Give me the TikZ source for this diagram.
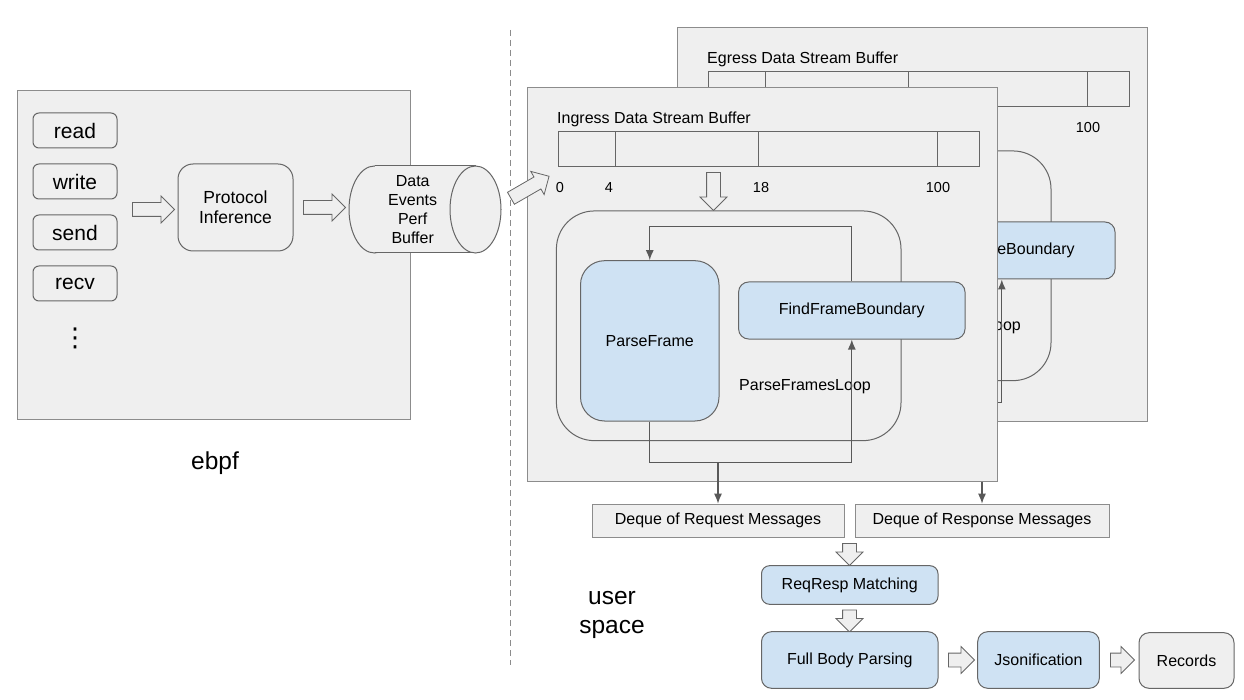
\documentclass[tikz,border=0pt]{standalone}
\usepackage{fontspec}
\setmainfont{Liberation Sans}
\newfontfamily\symfont{DejaVu Sans}
\usetikzlibrary{shapes.arrows,arrows.meta}
\definecolor{panelfill}{HTML}{EFEFEF}
\definecolor{panelline}{HTML}{8C8C8C}
\definecolor{boxline}{HTML}{666666}
\definecolor{stageblue}{HTML}{CFE2F3}
\definecolor{connline}{HTML}{595959}
\tikzset{
	panel/.style={draw=panelline,fill=panelfill,line width=1pt,inner sep=0pt},
	box/.style={draw=boxline,fill=panelfill,line width=1pt,rounded corners=#1},
	box/.default=10pt,
	stage/.style={box=#1,fill=stageblue},
	stage/.default=10pt,
	call/.style={box=6pt,minimum width=84pt,minimum height=35pt,font=\fontsize{21}{25}\selectfont},
	deque/.style={draw=panelline,fill=panelfill,line width=1pt,minimum height=33pt},
	hollow/.style={single arrow,draw=boxline,fill=panelfill,line width=.8pt,inner xsep=0pt,
		inner ysep=6.5pt,single arrow head extend=6.5pt},
	conn/.style={->,draw=connline,line width=1.3pt}
}
\begin{document}
\begin{tikzpicture}[x=1pt,y=-1pt,>={Latex[length=10pt,width=8pt]},font=\fontsize{16}{19}\selectfont]
		\useasboundingbox (0,0) rectangle (1244,700);
		% kernel side
		\node [panel,minimum width=393pt,minimum height=328pt] (ebpf) at (213.5,255) {};
		\foreach \c [count=\i] in {read,write,send,recv}
			\node [call] (\c) at (75,79.5+51*\i) {\c};
		\node [font=\symfont\fontsize{26}{30}\selectfont] (more) at (75,338) {⋮};
		\node [hollow,minimum height=42pt] (tap) at (150,209.5) {};
		\node [box=15pt,minimum width=115pt,minimum height=87pt,align=center,
			font=\fontsize{17.5}{20}\selectfont] (proto) at (235.5,207.5) {Protocol\\Inference};
		\node [hollow,minimum height=42pt] (emit) at (321,207.5) {};
		% perf buffer drum
		\filldraw [draw=boxline,fill=panelfill,line width=1pt] (374.5,209.5) ellipse [x radius=25.5,y radius=43.5];
		\fill [panelfill] (374.5,166) rectangle (475.5,253);
		\draw [boxline,line width=1pt] (374.5,166) -- (475.5,166) (374.5,253) -- (475.5,253);
		\filldraw [draw=boxline,fill=panelfill,line width=1pt] (475.5,209.5) ellipse [x radius=25.5,y radius=43.5];
		\node [align=center] (perf) at (412.7,210) {Data\\Events\\Perf\\Buffer};
		\node [font=\fontsize{24.5}{29}\selectfont] (kernel) at (215,463) {ebpf};
		\draw [panelline,line width=1pt,dash pattern=on 6pt off 4pt] (510,30) -- (510,665);
		\node [align=center,font=\fontsize{24.5}{29}\selectfont] (user) at (612,615) {user\\space};
		
		% stream buffers, egress behind ingress
		\foreach \p/\dx/\dy/\dir/\tx in {eg/150/-60/Egress/-8,in/0/0/Ingress/0}{
			\begin{scope}[shift={(\dx,\dy)}]
				\node [panel,minimum width=470pt,minimum height=393pt] (\p-panel) at (762,284.5) {};
				\node [anchor=west,inner sep=0pt] (\p-title) at (557,119.5) {\dir\ Data Stream Buffer};
				\node [draw=boxline,line width=1pt,inner sep=0pt,minimum width=421pt,minimum height=35pt] (\p-buf) at (768.5,149.5) {};
				\foreach \x in {615.7,758.3,937.7}
					\draw [boxline,line width=1pt] (\x,0 |- \p-buf.north) -- (\x,0 |- \p-buf.south);
				\foreach \lab/\x in {0/560,4/609,18/761,100/938}
					\node [font=\fontsize{14.5}{17}\selectfont] (\p-mark\lab) at (\x,188) {\lab};
				\node [hollow,minimum height=38pt,rotate=-90] (\p-drop) at (713.5,188) {};
				\node [box=38pt,minimum width=344.6pt,minimum height=229.7pt] (\p-loop) at (728.7,325.8) {};
				\node [stage=24pt,minimum width=138.5pt,minimum height=160.3pt] (\p-parse) at (649.75,340.85) {ParseFrame};
				\node [stage,minimum width=226.4pt,minimum height=57pt] (\p-find) at (851.8,310.5) {FindFrameBoundary};
				\node (\p-looplabel) at (805,387) {ParseFramesLoop};
				\draw [conn] ([xshift=\tx pt]\p-find.north) -- ++(0,-55) -| (\p-parse.north);
				\draw [conn] (\p-parse.south) -- ++(0,41) coordinate (\p-join) -| (\p-find.south);
			\end{scope}
		}
		\node [hollow,minimum height=44pt,rotate=30] (feed) at (527,189) {};
		
		% message pipeline
		\node [deque,minimum width=252pt] (req) at (718,520.7) {Deque of Request Messages};
		\node [deque,minimum width=254pt] (resp) at (982,520.7) {Deque of Response Messages};
		\draw [conn] (req.north |- in-join) -- (req.north);
		\draw [conn] (resp.north |- in-panel.south) -- (resp.north);
		\node [hollow,minimum height=22pt,rotate=-90] (pair) at (849.5,551) {};
		\node [stage=8pt,minimum width=176.5pt,minimum height=38.6pt] (match) at (849.75,585) {ReqResp Matching};
		\node [hollow,minimum height=22pt,rotate=-90] (body) at (849.5,617.5) {};
		\node [stage,minimum width=176.5pt,minimum height=56.6pt] (full) at (849.75,660) {Full Body Parsing};
		\node [hollow,minimum height=26pt] (tojson) at (958,660) {};
		\node [stage,minimum width=121.6pt,minimum height=56.6pt] (json) at (1038.5,660) {Jsonification};
		\node [hollow,minimum height=24pt] (torec) at (1119,660) {};
		\node [box,minimum width=95pt,minimum height=55.6pt] (records) at (1186.5,660.5) {Records};
\end{tikzpicture}
\end{document}
